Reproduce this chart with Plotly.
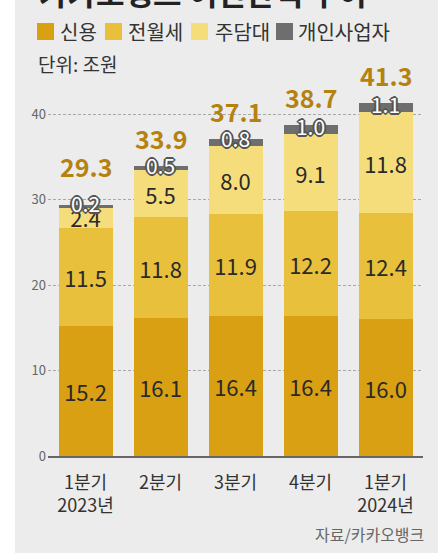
import numpy as np
import plotly.graph_objects as go

categories = ["1분기<br>2023년", "2분기", "3분기", "4분기", "1분기<br>2024년"]
series_names = ["신용", "전월세", "주담대", "개인사업자"]
credit = [15.2, 16.1, 16.4, 16.4, 16.0]
jeonse = [11.5, 11.8, 11.9, 12.2, 12.4]
mortgage = [2.4, 5.5, 8.0, 9.1, 11.8]
sole_prop = [0.2, 0.5, 0.8, 1.0, 1.1]
totals = [29.3, 33.9, 37.1, 38.7, 41.3]
y_ticks = [0, 10, 20, 30, 40]
title_text = "카카오뱅크 여신잔액 추이"
unit_text = "단위: 조원"
source_text = "자료/카카오뱅크"

colors = ["#d9a013", "#e9c03b", "#f6dd7b", "#6e6e6e"]
FONT = "Noto Sans CJK KR"
W, H = 438, 556
ML, MR, MT, MB = 48, 15, 93, 100
PW, PH = W - ML - MR, H - MT - MB
PPU = 8.55  # pixels per unit


def px(x):
    return (x - ML) / PW


def py(y):
    return (H - MB - y) / PH


fig = go.Figure()
values = [credit, jeonse, mortgage, sole_prop]
for i, (name, vals) in enumerate(zip(series_names, values)):
    if i < 3:
        fig.add_trace(go.Bar(
            x=categories, y=vals, name=name, marker=dict(color=colors[i], line=dict(width=0)),
            text=[f"{v:.1f}" for v in vals], textposition="inside", insidetextanchor="middle",
            textangle=0, textfont=dict(family=FONT, size=22, color="#2a2a2a"),
            showlegend=False,
        ))
    else:
        fig.add_trace(go.Bar(
            x=categories, y=vals, name=name, marker=dict(color=colors[i], line=dict(width=0)),
            showlegend=False, hoverinfo="skip",
        ))

# labels for the thin grey segment
base = np.array(credit) + np.array(jeonse) + np.array(mortgage)
mid = base + np.array(sole_prop) / 2
outline = "#555555"
shadow = ", ".join(f"{dx}px {dy}px 0 {outline}" for dx, dy in
                   [(1, 1), (-1, -1), (1, -1), (-1, 1), (0, 1), (1, 0), (0, -1), (-1, 0),
                    (0, 2), (2, 0), (0, -2), (-2, 0)])
fig.add_trace(go.Scatter(
    x=categories, y=mid, mode="text", text=[f"{v:.1f}" for v in sole_prop],
    textposition="middle center",
    textfont=dict(family=FONT, size=21, color="white", shadow=shadow),
    showlegend=False, hoverinfo="skip", cliponaxis=False,
))

# totals
total_shift = [19, 8, 8, 8, 8]
for c, t, s in zip(categories, totals, total_shift):
    fig.add_annotation(x=c, y=t, text=f"<b>{t:.1f}</b>", showarrow=False, yanchor="bottom",
                       yshift=s, font=dict(family=FONT, size=25, color="#b5820f"))

# title (cropped at top of picture)
fig.add_annotation(xref="paper", yref="paper", x=px(37), y=py(-8), xanchor="left", yanchor="middle",
                   text=f"<b>{title_text}</b>", showarrow=False,
                   font=dict(family=FONT, size=31, color="#222222"))

# legend
leg_sq_x = [37, 105, 191, 276]
leg_tx_x = [58, 126, 213, 296]
for name, col, sx, tx in zip(series_names, colors, leg_sq_x, leg_tx_x):
    fig.add_shape(type="rect", xref="paper", yref="paper", x0=px(sx), x1=px(sx + 17),
                  y0=py(40), y1=py(23), fillcolor=col, line=dict(width=0), layer="above")
    fig.add_annotation(xref="paper", yref="paper", x=px(tx), y=py(31), xanchor="left",
                       yanchor="middle", text=name, showarrow=False,
                       font=dict(family=FONT, size=20, color="#333333"))

fig.add_annotation(xref="paper", yref="paper", x=px(36), y=py(63), xanchor="left",
                   yanchor="middle", text=unit_text, showarrow=False,
                   font=dict(family=FONT, size=19, color="#333333"))
fig.add_annotation(xref="paper", yref="paper", x=px(426), y=py(534), xanchor="right",
                   yanchor="middle", text=source_text, showarrow=False,
                   font=dict(family=FONT, size=16, color="#666666"))

# white frame outside the grey panel
fig.add_shape(type="rect", xref="paper", yref="paper", x0=px(-5), x1=px(15), y0=py(H + 5), y1=py(-5),
              fillcolor="white", line=dict(width=0), layer="above")
fig.add_shape(type="rect", xref="paper", yref="paper", x0=px(-5), x1=px(W + 5), y0=py(H + 5), y1=py(553),
              fillcolor="white", line=dict(width=0), layer="above")

fig.update_layout(
    width=W, height=H, margin=dict(l=ML, r=MR, t=MT, b=MB, pad=0),
    paper_bgcolor="#ececec", plot_bgcolor="#ececec",
    barmode="stack", bargap=0.28,
    uniformtext=dict(minsize=22, mode="show"),
    font=dict(family=FONT),
    showlegend=False,
)
fig.update_xaxes(showline=True, linecolor="#666666", linewidth=2, ticks="",
                 ticklabelstandoff=9,
                 tickfont=dict(family=FONT, size=18, color="#333333"), showgrid=False)
fig.update_yaxes(range=[0, PH / PPU], tickvals=y_ticks, showgrid=True, gridcolor="#a8a8a8",
                 griddash="3px,2px", gridwidth=1, zeroline=False, ticks="",
                 ticklabelstandoff=1,
                 tickfont=dict(family=FONT, size=13, color="#666666"))

fig.write_html("out.html")
